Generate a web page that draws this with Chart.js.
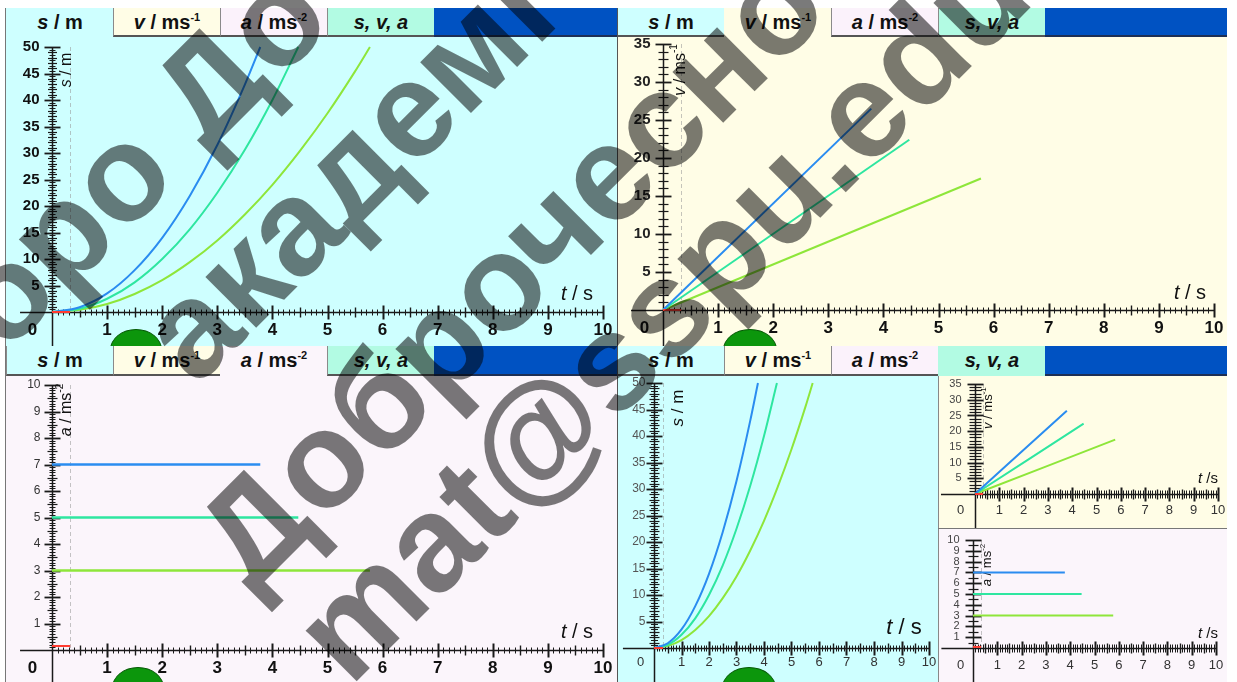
<!DOCTYPE html>
<html>
<head>
<meta charset="utf-8">
<script src="https://cdn.jsdelivr.net/npm/chart.js@4.4.1/dist/chart.umd.min.js"></script>
<style>
  html, body { margin: 0; padding: 0; background: #fff; width: 1237px; height: 682px; overflow: hidden;
    font-family: "Liberation Sans", Arial, sans-serif; }
  .panel { position: absolute; overflow: hidden; }
  .tab { position: absolute; top: 0; height: 29px; box-sizing: border-box; text-align: center;
    font: bold 20px "Liberation Sans", Arial, sans-serif; line-height: 29px; color: #111; white-space: nowrap; }
  .tab.off { border-left: 1px solid #8a8a8a; border-right: 1px solid #555; border-bottom: 2px solid #555; line-height: 28px; }
  .tab .sup { font-size: 11px; position: relative; top: -8px; }
  .fill { position: absolute; top: 0; height: 29px; box-sizing: border-box; background: #0052c2; border-bottom: 2px solid #1d2f55; }
  .body { position: absolute; }
  canvas { position: absolute; display: block; }
  .dome { position: absolute; border-radius: 50%; background: #0c960c; border: 1px solid #055a05; box-sizing: border-box; }
  .vline { position: absolute; width: 1px; background: #555; }
  .hline { position: absolute; height: 1px; background: #777; }
</style>
</head>
<body>

<!-- top-left: distance -->
<div class="panel" id="pTL" style="left:5px;top:8px;width:612px;height:338px;border-left:1px solid #777;box-sizing:border-box;">
  <div class="body" style="left:0;top:29px;width:612px;height:309px;background:#ceffff;"></div>
  <div class="tab" style="left:0;width:108px;background:#ceffff;"><i>s</i> / m</div>
  <div class="tab off" style="left:107px;width:108px;background:#fffde6;"><i>v</i> / ms<span class="sup">-1</span></div>
  <div class="tab off" style="left:214px;width:108px;background:#fbf2fb;"><i>a</i> / ms<span class="sup">-2</span></div>
  <div class="tab off" style="left:321px;width:108px;background:#b2fbe3;"><i>s, v, a</i></div>
  <div class="fill" style="left:428px;width:190px;"></div>
  <div class="dome" style="left:104px;top:321px;width:52px;height:42px;"></div>
</div>

<!-- top-right: velocity -->
<div class="panel" id="pTR" style="left:617px;top:8px;width:610px;height:338px;">
  <div class="body" style="left:0;top:29px;width:610px;height:309px;background:#fffde6;"></div>
  <div class="tab off" style="left:0;width:108px;background:#ceffff;"><i>s</i> / m</div>
  <div class="tab" style="left:107px;width:108px;background:#fffde6;"><i>v</i> / ms<span class="sup">-1</span></div>
  <div class="tab off" style="left:214px;width:108px;background:#fbf2fb;"><i>a</i> / ms<span class="sup">-2</span></div>
  <div class="tab off" style="left:321px;width:108px;background:#b2fbe3;"><i>s, v, a</i></div>
  <div class="fill" style="left:428px;width:182px;"></div>
  <div class="dome" style="left:106px;top:321px;width:54px;height:42px;"></div>
</div>

<!-- bottom-left: acceleration -->
<div class="panel" id="pBL" style="left:5px;top:346px;width:612px;height:336px;border-left:1px solid #777;box-sizing:border-box;">
  <div class="body" style="left:0;top:30px;width:612px;height:306px;background:#fbf5fb;"></div>
  <div class="tab off" style="left:0;width:108px;height:30px;background:#ceffff;"><i>s</i> / m</div>
  <div class="tab off" style="left:107px;width:108px;height:30px;background:#fffde6;"><i>v</i> / ms<span class="sup">-1</span></div>
  <div class="tab" style="left:214px;width:108px;height:30px;background:#fbf5fb;"><i>a</i> / ms<span class="sup">-2</span></div>
  <div class="tab off" style="left:321px;width:108px;height:30px;background:#b2fbe3;"><i>s, v, a</i></div>
  <div class="fill" style="left:428px;width:190px;height:30px;"></div>
  <div class="dome" style="left:106px;top:321px;width:52px;height:42px;"></div>
</div>

<!-- bottom-right: all three -->
<div class="panel" id="pBR" style="left:617px;top:346px;width:610px;height:336px;">
  <div class="body" style="left:0;top:30px;width:321px;height:306px;background:#ceffff;"></div>
  <div class="body" style="left:321px;top:30px;width:289px;height:152px;background:#fffde6;"></div>
  <div class="body" style="left:321px;top:182px;width:289px;height:154px;background:#fbf5fb;"></div>
  <div class="tab off" style="left:0;width:108px;height:30px;background:#ceffff;"><i>s</i> / m</div>
  <div class="tab off" style="left:107px;width:108px;height:30px;background:#fffde6;"><i>v</i> / ms<span class="sup">-1</span></div>
  <div class="tab off" style="left:214px;width:108px;height:30px;background:#fbf2fb;"><i>a</i> / ms<span class="sup">-2</span></div>
  <div class="tab" style="left:321px;width:108px;height:30px;background:#b2fbe3;"><i>s, v, a</i></div>
  <div class="fill" style="left:428px;width:182px;height:30px;"></div>
  <div class="dome" style="left:105px;top:321px;width:54px;height:42px;"></div>
  <div class="vline" style="left:321px;top:30px;height:306px;background:#888;"></div>
  <div class="hline" style="left:321px;top:182px;width:289px;"></div>
</div>

<div class="vline" style="left:617px;top:8px;height:674px;"></div>

<canvas id="cTL" width="611" height="309" style="left:6px;top:37px;"></canvas>
<canvas id="cTR" width="609" height="309" style="left:618px;top:37px;"></canvas>
<canvas id="cBL" width="611" height="306" style="left:6px;top:376px;"></canvas>
<canvas id="cBRs" width="320" height="306" style="left:618px;top:376px;"></canvas>
<canvas id="cBRv" width="288" height="152" style="left:939px;top:376px;"></canvas>
<canvas id="cBRa" width="288" height="154" style="left:939px;top:528px;"></canvas>

<svg width="1237" height="682" style="position:absolute;left:0;top:0;z-index:20;pointer-events:none;"
     font-family="Liberation Sans, Arial, sans-serif" font-size="136" font-weight="bold" fill="rgba(0,0,0,0.52)">
  <text transform="translate(336,24) rotate(-45)" text-anchor="end">Добро До</text>
  <text transform="translate(196,388) rotate(-45)">академічна</text>
  <text transform="translate(252,594) rotate(-45)">Доброчесно</text>
  <text transform="translate(350,688) rotate(-45)">mat@sspu.edu.ua</text>
</svg>

<script>
// ---- values ----
// three bodies starting from rest with a = 7, 5 and 3 m/s², each run until s = 50 m
const tBlue  = [0, 0.5, 1, 1.5, 2, 2.5, 3, 3.5, 3.78];
const sBlue  = [0, 0.9, 3.5, 7.9, 14, 21.9, 31.5, 42.9, 50];
const tGreen = [0, 0.5, 1, 1.5, 2, 2.5, 3, 3.5, 4, 4.47];
const sGreen = [0, 0.6, 2.5, 5.6, 10, 15.6, 22.5, 30.6, 40, 50];
const tLime  = [0, 0.5, 1, 1.5, 2, 2.5, 3, 3.5, 4, 4.5, 5, 5.5, 5.77];
const sLime  = [0, 0.4, 1.5, 3.4, 6, 9.4, 13.5, 18.4, 24, 30.4, 37.5, 45.4, 50];
const tEnd   = [3.78, 4.47, 5.77];
const vEnd   = [26.5, 22.4, 17.3];
const aLevel = [7, 5, 3];
const markerT = [0, 0.33];
const markerA = [0.15, 0.15];
const cursorT = 0.33;

const timeTicks = [1, 2, 3, 4, 5, 6, 7, 8, 9, 10];
const sTicks = [5, 10, 15, 20, 25, 30, 35, 40, 45, 50];
const vTicks = [5, 10, 15, 20, 25, 30, 35];
const aTicks = [1, 2, 3, 4, 5, 6, 7, 8, 9, 10];

// ---- styles ----
const COLORS = ['#2a8cf0', '#2ee6a0', '#8ee63a'];
const RED = '#ff3b30';
const FONT = '"Liberation Sans", Arial, sans-serif';

const xyPts = (xs, ys) => xs.map((x, i) => ({ x, y: ys[i] }));
const line = (data, color, width) => ({
  data, borderColor: color, borderWidth: width, pointRadius: 0, fill: false,
  tension: 0.4, cubicInterpolationMode: 'monotone'
});

function drawRich(ctx, parts, size, cx, cy, rot, color) {
  ctx.save();
  ctx.translate(cx, cy);
  if (rot) ctx.rotate(rot);
  ctx.fillStyle = color || '#111';
  const fontOf = p => `${p.i ? 'italic ' : ''}${p.b ? 'bold ' : ''}${p.sup ? Math.round(size * 0.6) : size}px ${FONT}`;
  let w = 0;
  const widths = parts.map(p => { ctx.font = fontOf(p); const m = ctx.measureText(p.t).width; w += m; return m; });
  let x = -w / 2;
  ctx.textBaseline = 'middle';
  ctx.textAlign = 'left';
  parts.forEach((p, k) => { ctx.font = fontOf(p); ctx.fillText(p.t, x, p.sup ? -size * 0.38 : 0); x += widths[k]; });
  ctx.restore();
}

// axes that cross at the origin, with dense ruler ticks
function crossAxes(cfg) {
  return {
    id: 'crossAxes',
    beforeDatasetsDraw(chart) {
      const { ctx, scales: { x, y } } = chart;
      const X = v => x.getPixelForValue(v), Y = v => y.getPixelForValue(v);
      const ox = Math.round(X(0)) + 0.5, oy = Math.round(Y(0)) + 0.5;
      ctx.save();
      // time cursor
      ctx.strokeStyle = 'rgba(150,150,150,0.55)';
      ctx.lineWidth = 1;
      ctx.setLineDash([4, 3]);
      ctx.beginPath();
      ctx.moveTo(Math.round(X(cursorT)) + 0.5, Y(cfg.yTop));
      ctx.lineTo(Math.round(X(cursorT)) + 0.5, oy);
      ctx.stroke();
      ctx.setLineDash([]);

      ctx.strokeStyle = '#1a1a1a';
      ctx.lineWidth = 1.5;
      ctx.beginPath();
      ctx.moveTo(X(cfg.xStart), oy); ctx.lineTo(X(10), oy);
      ctx.moveTo(ox, Y(cfg.yTop)); ctx.lineTo(ox, chart.height);
      ctx.stroke();

      // x ruler
      const nx = Math.round(10 / cfg.xStep);
      for (let i = 1; i <= nx; i++) {
        const px = Math.round(X(i * cfg.xStep)) + 0.5;
        let len, lw;
        if (i % cfg.xMajor === 0) { len = cfg.xLen[0]; lw = 2; }
        else if (i % cfg.xMid === 0) { len = cfg.xLen[1]; lw = 1.4; }
        else { len = cfg.xLen[2]; lw = 1; }
        ctx.lineWidth = lw;
        ctx.beginPath(); ctx.moveTo(px, oy - len); ctx.lineTo(px, oy + len); ctx.stroke();
      }
      // y ruler
      const ny = Math.round(cfg.yTop / cfg.yStep);
      for (let i = 1; i <= ny; i++) {
        const py = Math.round(Y(i * cfg.yStep)) + 0.5;
        let len, lw;
        if (i % cfg.yMajor === 0) { len = cfg.yLen[0]; lw = 1.8; }
        else if (i % cfg.yMid === 0) { len = cfg.yLen[1]; lw = 1.2; }
        else { len = cfg.yLen[2]; lw = 1; }
        ctx.lineWidth = lw;
        ctx.beginPath(); ctx.moveTo(ox - len, py); ctx.lineTo(ox + len, py); ctx.stroke();
      }

      // tick labels
      ctx.fillStyle = cfg.xColor;
      ctx.font = cfg.xFont;
      ctx.textAlign = 'center';
      ctx.textBaseline = 'middle';
      timeTicks.forEach(v => ctx.fillText(String(v), X(v), oy + cfg.xDy));
      ctx.fillText('0', ox - cfg.zeroDx, oy + cfg.xDy);
      ctx.fillStyle = cfg.yColor;
      ctx.font = cfg.yFont;
      ctx.textAlign = 'right';
      cfg.yTicks.forEach(v => ctx.fillText(String(v), ox - cfg.yGap, Y(v)));

      // axis titles
      drawRich(ctx, cfg.yTitle, cfg.yTitleSize, ox + cfg.yTitleDx, Y(cfg.yTop) + cfg.yTitleDy, -Math.PI / 2);
      drawRich(ctx, [{ t: 't', i: 1 }, { t: cfg.tSep + 's' }], cfg.tTitleSize, X(10) + cfg.tTitleDx, oy + cfg.tTitleDy, 0);
      ctx.restore();
    }
  };
}

function makeChart(id, geo, datasets, axes) {
  const cv = document.getElementById(id);
  const w = cv.width, h = cv.height;
  return new Chart(cv, {
    type: 'line',
    data: { datasets },
    options: {
      responsive: false, animation: false, devicePixelRatio: 1,
      layout: { padding: 0 },
      plugins: { legend: { display: false }, tooltip: { enabled: false } },
      scales: {
        x: { type: 'linear', display: false, min: -geo.ox / geo.kx, max: (w - geo.ox) / geo.kx },
        y: { type: 'linear', display: false, min: -(h - geo.oy) / geo.ky, max: geo.oy / geo.ky }
      }
    },
    plugins: [crossAxes(axes)]
  });
}

const sTitle = [{ t: 's', i: 1 }, { t: ' / m' }];
const vTitle = [{ t: 'v', i: 1 }, { t: ' / ms' }, { t: '-1', sup: 1 }];
const aTitle = [{ t: 'a', i: 1 }, { t: ' / ms' }, { t: '-2', sup: 1 }];

const sSets = w => [
  line(xyPts(markerT, [0, 0]), RED, 2),
  line(xyPts(tBlue, sBlue), COLORS[0], w),
  line(xyPts(tGreen, sGreen), COLORS[1], w),
  line(xyPts(tLime, sLime), COLORS[2], w)
];
const vSets = w => [
  line(xyPts(markerT, [0, 0]), RED, 2),
  ...tEnd.map((t, k) => line(xyPts([0, t], [0, vEnd[k]]), COLORS[k], w))
];
const aSets = (w, m) => [
  line(xyPts(markerT, m), RED, 2),
  ...tEnd.map((t, k) => line(xyPts([0, t], [aLevel[k], aLevel[k]]), COLORS[k], w))
];

const bigX = { xStep: 0.1, xMajor: 10, xMid: 5, xLen: [7, 5, 3], xFont: `bold 17px ${FONT}`, xColor: '#111',
  xDy: 18, zeroDx: 20, xStart: -0.58, tSep: ' / ', tTitleSize: 20, tTitleDx: -26, tTitleDy: -18 };

makeChart('cTL', { ox: 46, oy: 275, kx: 55.1, ky: 5.3 }, sSets(2), Object.assign({}, bigX, {
  yTop: 50, yStep: 0.5, yMajor: 10, yMid: 2, yLen: [8, 4.5, 3], yTicks: sTicks,
  yFont: `bold 15px ${FONT}`, yColor: '#111', yGap: 13,
  yTitle: sTitle, yTitleSize: 16, yTitleDx: 14, yTitleDy: 23
}));

makeChart('cTR', { ox: 45, oy: 273, kx: 55.1, ky: 7.6 }, vSets(2), Object.assign({}, bigX, {
  yTop: 35, yStep: 1, yMajor: 5, yMid: 1, yLen: [8, 5, 5], yTicks: vTicks,
  yFont: `bold 15px ${FONT}`, yColor: '#222', yGap: 13, zeroDx: 19,
  yTitle: vTitle, yTitleSize: 16, yTitleDx: 17, yTitleDy: 26, tTitleDx: -24, tTitleDy: -17
}));

makeChart('cBL', { ox: 46, oy: 274, kx: 55.1, ky: 26.5 }, aSets(2.5, markerA), Object.assign({}, bigX, {
  yTop: 10, yStep: 0.1, yMajor: 10, yMid: 5, yLen: [8, 5, 3], yTicks: aTicks,
  yFont: `12px ${FONT}`, yColor: '#333', yGap: 12,
  yTitle: aTitle, yTitleSize: 16, yTitleDx: 14, yTitleDy: 25
}));

makeChart('cBRs', { ox: 36, oy: 272, kx: 27.5, ky: 5.3 }, sSets(2), {
  xStep: 0.1, xMajor: 10, xMid: 5, xLen: [7, 5, 3], xFont: `13px ${FONT}`, xColor: '#333',
  xDy: 14, zeroDx: 14, xStart: -1.13, tSep: ' / ', tTitleSize: 22, tTitleDx: -25, tTitleDy: -21,
  yTop: 50, yStep: 0.5, yMajor: 10, yMid: 2, yLen: [8, 5, 3.5], yTicks: sTicks,
  yFont: `12px ${FONT}`, yColor: '#555', yGap: 9,
  yTitle: sTitle, yTitleSize: 17, yTitleDx: 24, yTitleDy: 25
});

makeChart('cBRv', { ox: 36, oy: 118, kx: 24.3, ky: 3.14 }, vSets(2), {
  xStep: 0.1, xMajor: 10, xMid: 5, xLen: [7, 5, 4], xFont: `13px ${FONT}`, xColor: '#333',
  xDy: 16, zeroDx: 15, xStart: -1.4, tSep: ' /', tTitleSize: 15, tTitleDx: -10, tTitleDy: -16,
  yTop: 35, yStep: 1, yMajor: 5, yMid: 1, yLen: [8, 6, 6], yTicks: vTicks,
  yFont: `11px ${FONT}`, yColor: '#444', yGap: 14,
  yTitle: vTitle, yTitleSize: 13, yTitleDx: 13, yTitleDy: 24
});

makeChart('cBRa', { ox: 34, oy: 120, kx: 24.3, ky: 10.8 }, aSets(2, [0.1, 0.1]), {
  xStep: 0.1, xMajor: 10, xMid: 5, xLen: [7, 5, 4], xFont: `13px ${FONT}`, xColor: '#333',
  xDy: 17, zeroDx: 13, xStart: -1.3, tSep: ' /', tTitleSize: 15, tTitleDx: -8, tTitleDy: -15,
  yTop: 10, yStep: 0.5, yMajor: 2, yMid: 1, yLen: [8, 5, 5], yTicks: aTicks,
  yFont: `11px ${FONT}`, yColor: '#444', yGap: 14,
  yTitle: aTitle, yTitleSize: 13, yTitleDx: 14, yTitleDy: 25
});
</script>
</body>
</html>
